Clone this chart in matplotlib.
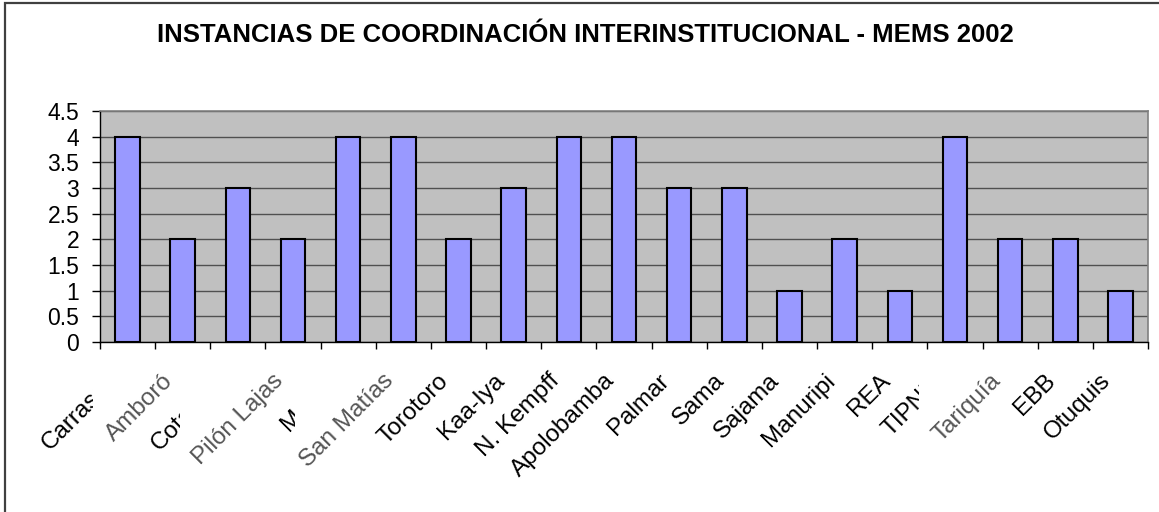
import matplotlib
matplotlib.use("Agg")
import matplotlib.pyplot as plt
import matplotlib.transforms as mtransforms
from matplotlib.patches import Rectangle
import numpy as np

plt.rcParams['font.family'] = ['Liberation Sans', 'DejaVu Sans']

title = "INSTANCIAS DE COORDINACIÓN INTERINSTITUCIONAL - MEMS 2002"
categories = ["Carrasco", "Amboró", "Cotapata", "Pilón Lajas", "Madidi",
              "San Matías", "Torotoro", "Kaa-Iya", "N. Kempff", "Apolobamba",
              "Palmar", "Sama", "Sajama", "Manuripi", "REA", "TIPNIS",
              "Tariquía", "EBB", "Otuquis"]
values = [4, 2, 3, 2, 4, 4, 2, 3, 4, 4, 3, 3, 1, 2, 1, 4, 2, 2, 1]
yticks = [0, 0.5, 1, 1.5, 2, 2.5, 3, 3.5, 4, 4.5]
ytick_labels = ["0", "0.5", "1", "1.5", "2", "2.5", "3", "3.5", "4", "4.5"]

# styling: labels clipped (overlap-hidden) in the original, and ghosted labels
clip_right = {"Carrasco": -0.63, "Cotapata": -1.05, "Madidi": -0.97, "TIPNIS": -0.65}
ghosted = {"Amboró", "Pilón Lajas", "San Matías", "Tariquía"}

W, H, DPI = 1159, 512, 100
fig = plt.figure(figsize=(W / DPI, H / DPI), dpi=DPI)
fig.patch.set_facecolor('white')

# outer chart frame (left/top visible)
frame = Rectangle((5 / W, -0.2), 1.2, 1.2 - 3 / H, transform=fig.transFigure,
                  fill=False, edgecolor='#404040', linewidth=1.6, zorder=0)
fig.patches.append(frame)

ax = fig.add_axes([100 / W, 1 - 342 / H, (1148 - 100) / W, (342 - 111) / H])
ax.set_facecolor('#C0C0C0')

x = np.arange(len(categories))
ax.bar(x, values, width=0.444, color='#9999FF', edgecolor='black',
       linewidth=1.5, zorder=3)

ax.set_xlim(-0.5, len(categories) - 0.5)
ax.set_ylim(0, 4.5)
ax.set_yticks(yticks)
ax.set_yticklabels(ytick_labels, fontsize=16.5)
ax.yaxis.grid(True, color='#505050', linewidth=1.0, zorder=1)
ax.set_axisbelow(True)

ax.set_xticks(np.arange(-0.5, len(categories), 1.0))
ax.set_xticklabels([])
ax.tick_params(axis='x', direction='out', length=5, width=1, color='black')
ax.tick_params(axis='y', direction='out', length=6, width=1, color='black', pad=9)

for side in ['top', 'right']:
    ax.spines[side].set_color('#808080')
    ax.spines[side].set_linewidth(1.2)
for side in ['left', 'bottom']:
    ax.spines[side].set_color('black')
    ax.spines[side].set_linewidth(1.0)

offset = mtransforms.ScaledTranslation(-15 / 72, -20 / 72, fig.dpi_scale_trans)
trans = ax.get_xaxis_transform() + offset
for i, name in enumerate(categories):
    color = '#555555' if name in ghosted else 'black'
    t = ax.text(i, 0, name, transform=trans, rotation=45, ha='right', va='top',
                rotation_mode='anchor', fontsize=17.5, color=color, clip_on=False)
    if name in clip_right:
        rect = Rectangle((i - 5, -10), 5 + clip_right[name], 20,
                         transform=ax.get_xaxis_transform(), visible=False)
        ax.add_patch(rect)
        t.set_clip_path(rect)
        t.set_clip_on(True)

fig.text(585 / W, 1 - 42 / H, title, ha='center', va='baseline',
         fontsize=18.5, fontweight='bold')

fig.savefig('out.png', dpi=DPI)
